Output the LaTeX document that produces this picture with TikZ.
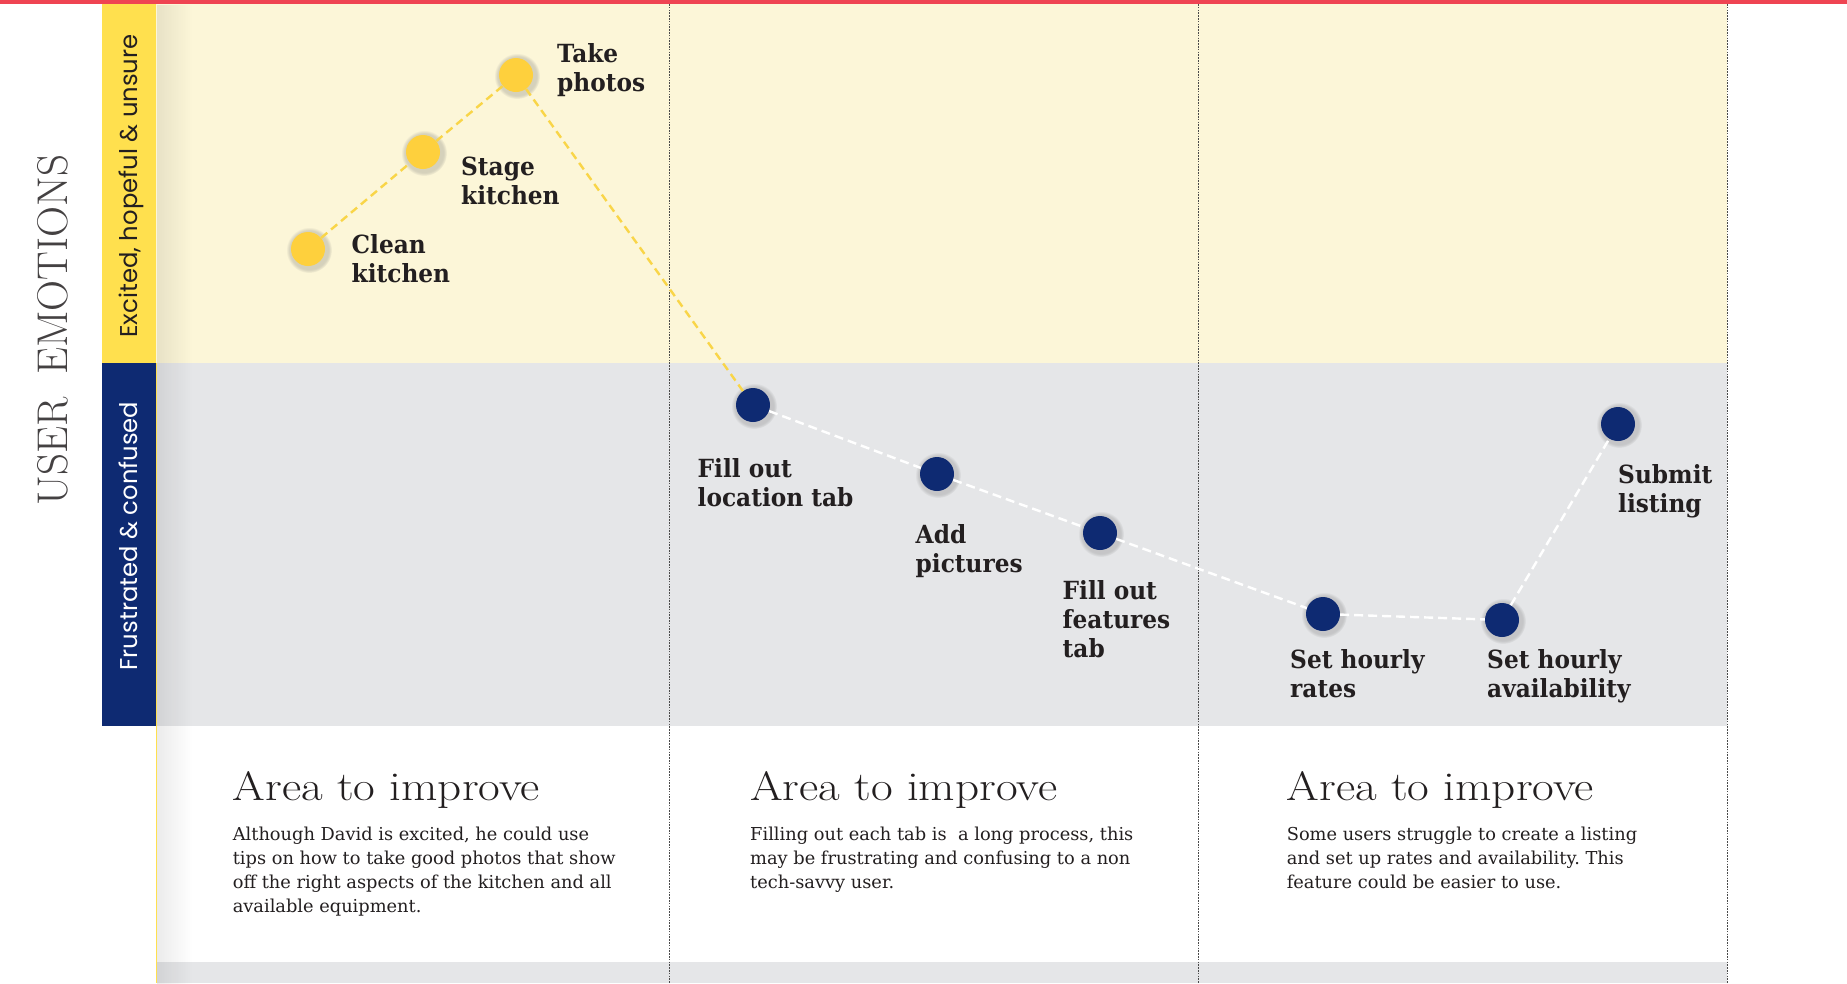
\documentclass[tikz,border=0pt]{standalone}
\usepackage{fontspec}
\setmainfont{Latin Modern Roman}
\newfontfamily\labelfont[FakeStretch=0.93]{DejaVu Serif}
\newfontfamily\bodyfont{DejaVu Serif}
\newfontfamily\headfont[FakeStretch=1.15]{Latin Modern Roman}
\newfontfamily\titlefont{Latin Modern Roman}
\newfontfamily\tagfont{Poppins}
\usetikzlibrary{shadows,fadings}
\frenchspacing

\definecolor{topred}{HTML}{EF4452}
\definecolor{bandyellow}{HTML}{FCF6D8}
\definecolor{bandgray}{HTML}{E5E6E8}
\definecolor{baryellow}{HTML}{FFE04E}
\definecolor{navy}{HTML}{0E2A72}
\definecolor{dotyellow}{HTML}{FED03D}
\definecolor{dashyellow}{HTML}{F9D548}
\definecolor{ink}{HTML}{231F20}
\definecolor{gridline}{HTML}{4A4A4A}

% stacked lines with a fixed baseline distance; baseline = first row
\newcommand\stackrows[2]{\vtop{\baselineskip=#1\lineskiplimit=-100pt\lineskip=0pt\halign{##\hfil\cr#2\crcr}}}

\tikzfading[name=edgefade, left color=transparent!0, right color=transparent!100]

\begin{document}
\begin{tikzpicture}[x=1pt,y=-1pt,
  dotbase/.style={circle, minimum size=34pt, inner sep=0pt,
    circular drop shadow={shadow scale=1.35, shadow xshift=0.8pt, shadow yshift=-0.8pt, opacity=0.28, fill=black!55}},
  ydot/.style={dotbase, fill=dotyellow},
  ndot/.style={dotbase, fill=navy},
  ylink/.style={draw=dashyellow, line width=2.4pt, dash pattern=on 8pt off 5pt},
  wlink/.style={draw=white, line width=2.4pt, dash pattern=on 9pt off 5pt},
  steplabel/.style={anchor=base west, inner sep=0pt, text=ink,
    font=\labelfont\bfseries\fontsize{25}{29}\selectfont},
  headtext/.style={anchor=base west, inner sep=0pt, text=ink,
    font=\headfont\fontsize{41}{46}\selectfont},
  bodytext/.style={anchor=base west, inner sep=0pt, text=ink,
    font=\bodyfont\fontsize{17.8}{24}\selectfont},
  tagtext/.style={anchor=base, rotate=90, inner sep=0pt,
    font=\tagfont\fontsize{24.3}{26}\selectfont},
  divider/.style={draw=gridline, line width=0.9pt, dash pattern=on 1.6pt off 1.2pt}
]
\useasboundingbox (0,0) rectangle (1847,983);
\fill[white] (0,0) rectangle (1847,983);

% bands
\fill[bandyellow] (156,4) rectangle (1727,363);
\fill[bandgray] (156,363) rectangle (1727,726);
\fill[bandgray] (156,962) rectangle (1727,983);
\fill[black, fill opacity=0.08, path fading=edgefade] (157,4) rectangle (192,983);
\draw[baryellow, line width=1.3pt] (156.8,363) -- (156.8,983);

% side tags
\fill[baryellow] (102,4) rectangle (156,363);
\fill[navy] (102,363) rectangle (156,726);
\node[tagtext, text=ink] (tagup) at (137,186) {Excited, hopeful \& unsure};
\node[tagtext, text=white] (tagdown) at (137,536) {Frustrated \& confused};
\node[anchor=base, rotate=90, inner sep=0pt, text=ink!85,
      font=\titlefont\fontsize{43}{46}\selectfont] (axis) at (67,330)
      {USER\hspace{23pt}EMOTIONS};

% red top rule
\fill[topred] (0,0) rectangle (1847,4);

% column dividers
\draw[divider] (669.5,4) -- (669.5,983);
\draw[divider] (1198.8,4) -- (1198.8,983);
\draw[divider] (1727.4,4) -- (1727.4,983);

% journey points
\node[ydot] (clean) at (308,249) {};
\node[ydot] (stage) at (423,152) {};
\node[ydot] (photos) at (516,75) {};
\node[ndot] (loc) at (753,405) {};
\node[ndot] (pics) at (937,474) {};
\node[ndot] (feat) at (1100,533) {};
\node[ndot] (rates) at (1323,614) {};
\node[ndot] (avail) at (1502,620) {};
\node[ndot] (submit) at (1618,424) {};

% connectors
\draw[ylink] (clean) -- (stage);
\draw[ylink] (stage) -- (photos);
\draw[ylink] (photos) -- (loc);
\draw[wlink] (loc) -- (pics);
\draw[wlink] (pics) -- (feat);
\draw[wlink] (feat) -- (rates);
\draw[wlink] (rates) -- (avail);
\draw[wlink] (avail) -- (submit);

% point labels
\node[steplabel] (lphotos) at (557,62) {\stackrows{29pt}{Take\cr photos}};
\node[steplabel] (lstage) at (461,175) {\stackrows{29pt}{Stage\cr kitchen}};
\node[steplabel] (lclean) at (351.5,253) {\stackrows{29pt}{Clean\cr kitchen}};
\node[steplabel] (lloc) at (697.5,477) {\stackrows{29pt}{Fill out\cr location tab}};
\node[steplabel] (lpics) at (915.5,543) {\stackrows{29pt}{Add\cr pictures}};
\node[steplabel] (lfeat) at (1062.5,599) {\stackrows{29pt}{Fill out\cr features\cr tab}};
\node[steplabel] (lrates) at (1290,668) {\stackrows{29pt}{Set hourly\cr rates}};
\node[steplabel] (lavail) at (1487,668) {\stackrows{29pt}{Set hourly\cr availability}};
\node[steplabel] (lsubmit) at (1618,483) {\stackrows{29pt}{Submit\cr listing}};

% areas to improve
\node[headtext] (h1) at (232.6,800) {Area to improve};
\node[headtext] (h2) at (750,800) {Area to improve};
\node[headtext] (h3) at (1286.6,800) {Area to improve};

\node[bodytext] (p1) at (232.6,840) {\stackrows{24pt}{Although David is excited, he could use\cr
  tips on how to take good photos that show\cr
  off the right aspects of the kitchen and all\cr
  available equipment.}};
\node[bodytext] (p2) at (750,840) {\stackrows{24pt}{Filling out each tab is\ \ a long process, this\cr
  may be frustrating and confusing to a non\cr
  tech-savvy user.}};
\node[bodytext] (p3) at (1286.6,840) {\stackrows{24pt}{Some users struggle to create a listing\cr
  and set up rates and availability. This\cr
  feature could be easier to use.}};
\end{tikzpicture}
\end{document}
